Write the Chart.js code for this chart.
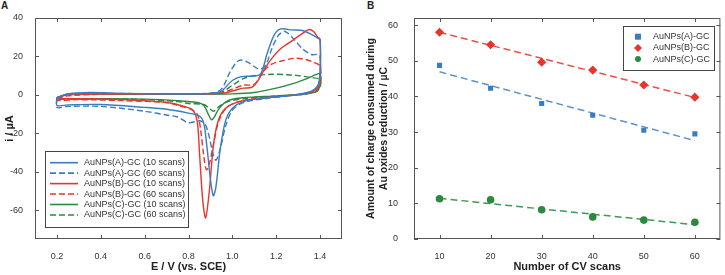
<!DOCTYPE html>
<html>
<head>
<meta charset="utf-8">
<script src="https://cdn.jsdelivr.net/npm/chart.js@4/dist/chart.umd.min.js"></script>
<style>
  body { margin: 0; background: #fff; }
  #wrap { position: relative; width: 725px; height: 275px; font-family: "Liberation Sans", Arial, sans-serif; }
  .panel { position: absolute; top: 0; }
  .tag { position: absolute; font-weight: bold; font-size: 10px; color: #222; }
</style>
</head>
<body>
<div id="wrap">
  <div class="tag" style="left:1px;top:0px;">A</div>
  <div class="tag" style="left:367px;top:0px;">B</div>
  <canvas id="cv" class="panel" width="350" height="275" style="left:0"></canvas>
  <canvas id="charge" class="panel" width="365" height="275" style="left:360px"></canvas>
</div>
<script>
// panel A: cyclic voltammograms, [E (V), i (uA)]
// forward scan 0.2 -> 1.4 V, then back to 0.2 V
const cvA10 = [[0.2,-1.5],[0.25,0.5],[0.35,1.2],[0.5,0.8],[0.7,0.6],[0.9,0.8],[0.95,2],[1.0,7.5],[1.04,9.5],[1.1,9.8],[1.13,11],[1.16,22],[1.19,31],[1.22,34.3],[1.27,33.8],[1.32,33.5],[1.36,31.5],[1.39,29.5],[1.4,28.5],
  [1.4,12],[1.39,5],[1.35,1.5],[1.25,-0.5],[1.15,-1.5],[1.05,-3.5],[1.0,-7],[0.97,-13],[0.945,-28],[0.925,-48],[0.913,-52.5],[0.9,-44],[0.885,-28],[0.87,-15],[0.85,-11],[0.8,-9.5],[0.7,-7.5],[0.6,-6.5],[0.4,-5],[0.25,-5.2],[0.2,-5.5],[0.2,-1.5]];
const cvA60 = [[0.2,-2],[0.25,0.3],[0.4,0.8],[0.7,0.5],[0.9,0.8],[0.95,3],[0.99,12],[1.03,18],[1.07,17],[1.12,13.5],[1.15,15],[1.18,24],[1.21,31],[1.24,33],[1.28,29],[1.32,24],[1.36,21],[1.39,21],[1.4,20],
  [1.4,8],[1.38,3],[1.33,0.5],[1.25,-0.5],[1.15,-2],[1.05,-4],[1.0,-8],[0.97,-16],[0.945,-28],[0.925,-34],[0.91,-30],[0.895,-22],[0.875,-15],[0.85,-13.5],[0.8,-14.5],[0.75,-11.5],[0.7,-10.5],[0.6,-8.5],[0.4,-6],[0.25,-6],[0.2,-6.5],[0.2,-2]];
const cvB10 = [[0.2,-1.5],[0.25,0],[0.4,0.5],[0.7,0.5],[0.95,0.8],[1.0,2],[1.05,3.5],[1.09,4],[1.12,8],[1.15,14],[1.18,19],[1.22,24],[1.27,28],[1.32,32],[1.35,34],[1.37,33],[1.39,30],[1.4,29],
  [1.4,10],[1.39,4],[1.35,1],[1.25,-0.5],[1.15,-1.5],[1.05,-3],[0.98,-6],[0.94,-12],[0.915,-25],[0.895,-50],[0.878,-64],[0.865,-55],[0.85,-30],[0.84,-14],[0.82,-8],[0.78,-6],[0.7,-4],[0.5,-2.5],[0.3,-2],[0.2,-2],[0.2,-1.5]];
const cvB60 = [[0.2,-2],[0.25,-0.5],[0.4,0.3],[0.7,0.5],[0.95,1],[1.0,3],[1.05,5],[1.1,5.5],[1.14,12],[1.18,16],[1.22,17.5],[1.28,19],[1.33,18.5],[1.37,17],[1.4,15],
  [1.4,6],[1.38,2],[1.33,0.5],[1.25,-0.5],[1.15,-1.5],[1.05,-3],[0.98,-6],[0.94,-13],[0.915,-25],[0.895,-36],[0.882,-39],[0.87,-32],[0.855,-18],[0.84,-10],[0.8,-7],[0.75,-5.5],[0.7,-4],[0.5,-3],[0.3,-2.5],[0.2,-3],[0.2,-2]];
const cvC10 = [[0.2,-1.5],[0.25,0.3],[0.5,0.3],[0.8,0.3],[1.0,0.5],[1.1,1.2],[1.2,3.5],[1.28,6],[1.34,8.5],[1.38,10.5],[1.4,11],
  [1.4,5],[1.38,1.5],[1.33,0.5],[1.2,-0.5],[1.05,-1.5],[0.98,-3],[0.94,-7],[0.915,-12],[0.905,-13],[0.89,-10],[0.87,-5.5],[0.84,-4],[0.75,-3],[0.6,-2.2],[0.4,-2],[0.2,-2],[0.2,-1.5]];
const cvC60 = [[0.2,-1.5],[0.25,0.3],[0.5,0.4],[0.8,0.5],[0.95,1.5],[1.0,5],[1.05,8.5],[1.1,10],[1.18,10.7],[1.25,10.5],[1.3,10],[1.36,9],[1.4,8],
  [1.4,4],[1.38,1.5],[1.3,0],[1.2,-0.7],[1.05,-2],[0.98,-3.5],[0.94,-6],[0.915,-8.5],[0.895,-7],[0.87,-5],[0.8,-4.5],[0.75,-3.5],[0.6,-2.5],[0.4,-2],[0.2,-2.2],[0.2,-1.5]];
const cvLabels = ["AuNPs(A)-GC (10 scans)", "AuNPs(A)-GC (60 scans)", "AuNPs(B)-GC (10 scans)",
  "AuNPs(B)-GC (60 scans)", "AuNPs(C)-GC (10 scans)", "AuNPs(C)-GC (60 scans)"];
const eTicks = [0.2, 0.4, 0.6, 0.8, 1.0, 1.2, 1.4];
const iTicks = [-60, -40, -20, 0, 20, 40];

// panel B: charge vs number of scans
const scans = [10, 20, 30, 40, 50, 60];
const chargeA = [48.7, 42.3, 38.0, 34.7, 30.5, 29.5];
const chargeB = [58.0, 54.5, 49.6, 47.4, 43.2, 39.8];
const chargeC = [11.3, 11.0, 8.2, 6.2, 5.3, 4.7];
const fitEnds = [10, 60];
const fitA = [46.9, 27.6];
const fitB = [58.0, 39.7];
const fitC = [11.4, 4.0];
const chargeLabels = ["AuNPs(A)-GC", "AuNPs(B)-GC", "AuNPs(C)-GC"];
const qTicks = [0, 10, 20, 30, 40, 50, 60];

const BLUE = "#3a7cc2", RED = "#e8352b", GREEN = "#2b8a3e";
const FONT = "'Liberation Sans', Arial, sans-serif";
const tickFont = { family: FONT, size: 9 };
const titleFont = { family: FONT, size: 11, weight: "bold" };

const pts = arr => arr.map(p => ({ x: p[0], y: p[1] }));
const pairs = (xs, ys) => xs.map((x, k) => ({ x: x, y: ys[k] }));

// box round the plot with small inward ticks on all four sides
const boxPlugin = {
  id: "box",
  afterDraw(chart) {
    const { ctx, chartArea: a, scales } = chart;
    ctx.save();
    ctx.strokeStyle = "#555";
    ctx.lineWidth = 1;
    ctx.strokeRect(a.left + 0.5, a.top + 0.5, a.right - a.left - 1, a.bottom - a.top - 1);
    ctx.beginPath();
    scales.x.ticks.forEach(t => {
      const px = Math.round(scales.x.getPixelForValue(t.value)) + 0.5;
      ctx.moveTo(px, a.bottom); ctx.lineTo(px, a.bottom - 4);
      ctx.moveTo(px, a.top); ctx.lineTo(px, a.top + 4);
    });
    scales.y.ticks.forEach(t => {
      const py = Math.round(scales.y.getPixelForValue(t.value)) + 0.5;
      ctx.moveTo(a.left, py); ctx.lineTo(a.left + 4, py);
      ctx.moveTo(a.right, py); ctx.lineTo(a.right - 4, py);
    });
    ctx.stroke();
    ctx.restore();
  }
};

// legend box drawn at a fixed place, taken from dataset styles
function boxLegend(id, box, rowY, sampleX, textX, kind) {
  return {
    id: id,
    afterDraw(chart) {
      const ctx = chart.ctx;
      ctx.save();
      ctx.fillStyle = "#fff";
      ctx.fillRect(box[0], box[1], box[2] - box[0], box[3] - box[1]);
      ctx.strokeStyle = "#444";
      ctx.lineWidth = 1;
      ctx.strokeRect(box[0] + 0.5, box[1] + 0.5, box[2] - box[0], box[3] - box[1]);
      ctx.font = "9px " + FONT;
      ctx.textBaseline = "middle";
      const shown = chart.data.datasets.filter(d => d.inLegend);
      shown.forEach((d, k) => {
        const y = rowY[0] + k * rowY[1];
        if (kind === "line") {
          ctx.strokeStyle = d.borderColor;
          ctx.lineWidth = 1.6;
          ctx.setLineDash(d.borderDash || []);
          ctx.beginPath();
          ctx.moveTo(sampleX[0], y); ctx.lineTo(sampleX[1], y);
          ctx.stroke();
          ctx.setLineDash([]);
        } else {
          ctx.fillStyle = d.backgroundColor;
          ctx.beginPath();
          const r = 3;
          if (d.pointStyle === "rect") ctx.rect(sampleX[0] - r, y - r, 2 * r, 2 * r);
          else if (d.pointStyle === "rectRot") {
            ctx.moveTo(sampleX[0], y - r - 1); ctx.lineTo(sampleX[0] + r + 1, y);
            ctx.lineTo(sampleX[0], y + r + 1); ctx.lineTo(sampleX[0] - r - 1, y);
          } else ctx.arc(sampleX[0], y, r, 0, Math.PI * 2);
          ctx.fill();
        }
        ctx.fillStyle = "#333";
        ctx.fillText(d.label, textX, y);
      });
      ctx.restore();
    }
  };
}

function cvSet(label, data, color, dashed) {
  return {
    label: label, data: pts(data), borderColor: color, borderWidth: 1.4,
    borderDash: dashed ? [6, 3] : [], pointRadius: 0, tension: 0.3,
    showLine: true, fill: false, inLegend: true
  };
}

new Chart(document.getElementById("cv"), {
  type: "scatter",
  data: {
    datasets: [
      cvSet(cvLabels[0], cvA10, BLUE, false),
      cvSet(cvLabels[1], cvA60, BLUE, true),
      cvSet(cvLabels[2], cvB10, RED, false),
      cvSet(cvLabels[3], cvB60, RED, true),
      cvSet(cvLabels[4], cvC10, GREEN, false),
      cvSet(cvLabels[5], cvC60, GREEN, true)
    ]
  },
  options: {
    responsive: false,
    animation: false,
    layout: { padding: { top: 18, right: 8, left: 0, bottom: 0 } },
    plugins: { legend: { display: false }, tooltip: { enabled: false } },
    scales: {
      x: {
        type: "linear", min: 0.1, max: 1.5,
        afterBuildTicks: s => { s.ticks = eTicks.map(v => ({ value: v })); },
        afterFit: s => { s.height = 36; },
        grid: { display: false }, border: { display: false },
        ticks: { font: tickFont, color: "#333", padding: 4, maxRotation: 0, callback: v => v.toFixed(1) },
        title: { display: true, text: "E / V (vs. SCE)", font: titleFont, color: "#222", padding: { top: 0, bottom: 1 } }
      },
      y: {
        min: -75, max: 40,
        afterBuildTicks: s => { s.ticks = iTicks.map(v => ({ value: v })); },
        afterFit: s => { s.width = 35; },
        grid: { display: false }, border: { display: false },
        ticks: { font: tickFont, color: "#333", padding: 4 },
        title: { display: true, text: "i / µA", font: titleFont, color: "#222", padding: { top: 3, bottom: 0 } }
      }
    }
  },
  plugins: [boxPlugin, boxLegend("cvLegend", [45, 151, 188, 227], [162.7, 10.45], [50, 78], 84, "line")]
});

function fitSet(ys, color) {
  return {
    data: pairs(fitEnds, ys), borderColor: color, borderWidth: 1.5, borderDash: [7, 4],
    showLine: true, pointRadius: 0, fill: false, inLegend: false, order: 2
  };
}
function markSet(label, ys, color, style, r) {
  return {
    label: label, data: pairs(scans, ys), backgroundColor: color, borderColor: color, borderWidth: 0,
    pointStyle: style, pointRadius: r, showLine: false, inLegend: true, order: 1
  };
}

new Chart(document.getElementById("charge"), {
  type: "scatter",
  data: {
    datasets: [
      markSet(chargeLabels[0], chargeA, BLUE, "rect", 3.6),
      markSet(chargeLabels[1], chargeB, RED, "rectRot", 4.6),
      markSet(chargeLabels[2], chargeC, GREEN, "circle", 3.8),
      fitSet(fitA, "#5a93d0"),
      fitSet(fitB, "#ee5046"),
      fitSet(fitC, "#3f9a52")
    ]
  },
  options: {
    responsive: false,
    animation: false,
    layout: { padding: { top: 18, right: 3, left: 0, bottom: 0 } },
    plugins: { legend: { display: false }, tooltip: { enabled: false } },
    scales: {
      x: {
        type: "linear", min: 5, max: 65,
        afterBuildTicks: s => { s.ticks = scans.map(v => ({ value: v })); },
        afterFit: s => { s.height = 36; },
        grid: { display: false }, border: { display: false },
        ticks: { font: tickFont, color: "#333", padding: 4, maxRotation: 0 },
        title: { display: true, text: "Number of CV scans", font: titleFont, color: "#222", padding: { top: 0, bottom: 1 } }
      },
      y: {
        min: 0, max: 62,
        afterBuildTicks: s => { s.ticks = qTicks.map(v => ({ value: v })); },
        afterFit: s => { s.width = 54; },
        grid: { display: false }, border: { display: false },
        ticks: { font: tickFont, color: "#333", padding: 8 },
        title: { display: true, text: ["Amount of charge consumed during", "Au oxides reduction / µC"], font: { family: FONT, size: 10.5, weight: "bold" }, color: "#222", padding: { top: 5, bottom: 0 } }
      }
    }
  },
  plugins: [boxPlugin, boxLegend("qLegend", [263, 26, 354, 70], [36.7, 11.2], [278, 0], 293, "mark")]
});
</script>
</body>
</html>
